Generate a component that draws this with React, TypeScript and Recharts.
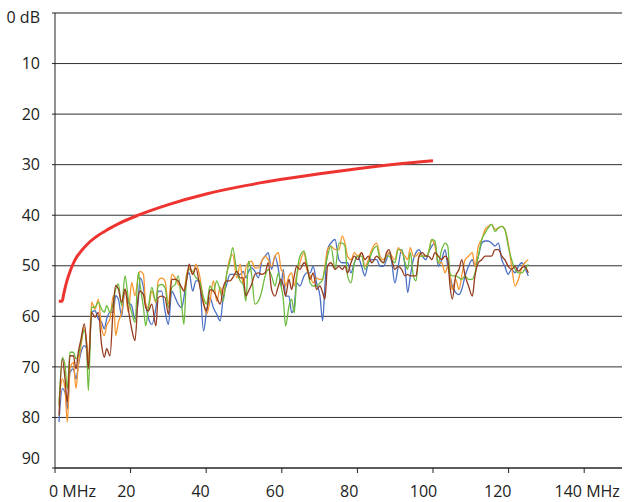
import { CartesianGrid, Line, LineChart, ReferenceLine, XAxis, YAxis } from "recharts";

// frequency points (MHz) shared by the four measured traces
const mhz = [
  1.06, 1.94, 2.65, 3.26, 3.97, 4.85, 5.56, 6.17, 6.88, 7.76, 8.38, 8.82, 9.7, 10.58, 11.46, 12.35, 13.05, 13.67, 14.55, 15.43,
  16.05, 16.75, 17.64, 18.52, 19.4, 20.28, 21.16, 22.05, 22.5, 23.4, 24.0, 24.7, 25.6, 26.7, 27.3, 28.2, 29.1, 30.0, 30.9, 31.8,
  32.6, 33.5, 34.1, 34.8, 35.5, 36.4, 37.3, 38.2, 39.3, 40.1, 41.0, 41.9, 42.8, 43.7, 44.5, 45.4, 46.3, 47.0, 48.1, 49.0,
  49.8, 50.5, 51.2, 52.0, 52.9, 53.8, 54.7, 55.6, 56.4, 57.3, 58.2, 59.1, 59.8, 60.4, 61.0, 61.9, 62.6, 63.3, 63.9, 64.8,
  65.9, 66.6, 67.5, 68.3, 69.2, 70.1, 70.8, 71.4, 72.1, 73.0, 74.1, 75.1, 76.0, 76.7, 77.4, 78.3, 79.2, 80.1, 81.1, 82.0,
  82.9, 83.8, 85.1, 86.0, 86.9, 87.7, 88.4, 89.1, 89.9, 90.8, 91.7, 92.6, 93.3, 94.0, 94.8, 95.5, 96.3, 97.2, 98.1, 98.8,
  99.7, 100.5, 101.4, 102.3, 103.2, 103.9, 104.5, 105.1, 106.0, 106.9, 107.6, 108.5, 109.4, 110.4, 111.1, 112.0, 112.9, 113.8, 114.6, 115.5,
  116.4, 117.3, 118.2, 119.0, 119.9, 120.8, 121.7, 122.6, 123.5, 124.3, 125.2,
];

const blue = [
  80.9, 74.3, 75.0, 78.3, 71.1, 70.4, 72.4, 69.7, 67.1, 65.8, 66.4, 69.7, 59.2, 58.9, 60.5, 61.2, 62.5, 60.5, 59.2, 59.2,
  55.9, 56.6, 59.9, 54.6, 57.2, 57.9, 60.5, 56.6, 52.4, 54.3, 57.6, 60.3, 61.6, 58.3, 55.0, 55.0, 58.9, 61.6, 55.0, 56.3,
  57.6, 58.3, 56.3, 52.4, 51.4, 55.0, 53.0, 53.0, 62.9, 58.9, 56.3, 58.3, 59.6, 60.9, 56.3, 53.7, 51.7, 51.7, 51.7, 51.7,
  51.1, 52.4, 51.1, 50.4, 51.1, 52.4, 49.1, 48.1, 47.4, 50.7, 48.1, 50.7, 54.0, 50.7, 56.0, 56.0, 59.3, 58.0, 53.4, 54.0,
  52.0, 51.4, 51.4, 50.1, 53.4, 56.0, 60.9, 54.0, 46.8, 45.5, 44.8, 48.8, 49.4, 49.4, 49.4, 51.4, 49.4, 48.1, 50.1, 52.0,
  49.4, 48.8, 48.8, 50.1, 50.1, 48.8, 47.4, 49.4, 53.4, 50.1, 46.8, 50.1, 55.3, 52.0, 48.8, 47.4, 46.8, 48.1, 48.8, 47.4,
  46.1, 45.5, 50.1, 48.8, 46.8, 50.1, 52.0, 54.0, 55.3, 55.7, 54.7, 52.0, 50.1, 48.8, 50.1, 48.1, 45.5, 45.1, 45.1, 45.5,
  46.1, 45.5, 48.8, 50.1, 51.7, 50.7, 51.4, 50.1, 49.4, 50.4, 52.0,
];

const orange = [
  77.0, 72.4, 74.3, 80.9, 70.4, 69.1, 74.3, 69.7, 65.8, 62.2, 65.1, 69.1, 57.2, 58.6, 56.6, 62.5, 63.8, 61.8, 60.5, 55.9,
  63.8, 61.2, 59.2, 54.6, 59.2, 53.3, 55.9, 52.0, 51.1, 51.7, 57.6, 58.3, 55.0, 57.3, 53.0, 52.4, 53.0, 57.6, 51.7, 52.4,
  53.7, 54.3, 55.0, 51.7, 50.4, 51.7, 49.7, 51.7, 57.0, 59.6, 57.0, 53.0, 57.0, 54.3, 55.7, 51.7, 48.4, 47.8, 52.4, 49.7,
  53.7, 50.4, 49.4, 49.1, 50.4, 50.4, 49.1, 48.1, 48.8, 50.1, 48.1, 47.4, 50.7, 51.4, 54.0, 52.0, 51.4, 54.0, 52.0, 49.4,
  47.4, 50.7, 52.0, 53.4, 52.4, 52.7, 52.7, 50.1, 46.8, 46.1, 46.8, 46.8, 44.1, 45.5, 48.1, 48.8, 47.4, 48.1, 47.4, 50.1,
  48.8, 46.8, 45.5, 48.1, 48.8, 48.1, 47.4, 48.1, 48.8, 46.4, 47.4, 48.1, 48.8, 46.4, 48.1, 48.1, 47.4, 48.1, 48.1, 47.4,
  44.8, 46.1, 49.4, 49.4, 51.4, 50.1, 52.0, 54.7, 52.7, 54.7, 52.0, 48.8, 48.1, 47.4, 50.1, 46.1, 44.8, 42.8, 42.2, 41.8,
  42.8, 42.5, 42.2, 42.8, 45.5, 50.1, 54.0, 52.7, 50.4, 49.4, 48.8,
];

const green = [
  77.6, 68.1, 69.7, 74.3, 67.1, 67.1, 68.4, 67.8, 65.1, 62.8, 66.4, 74.7, 58.2, 58.2, 57.2, 58.6, 59.2, 57.9, 59.2, 57.2,
  54.6, 53.6, 57.9, 52.0, 56.6, 59.2, 61.2, 51.3, 53.7, 58.3, 61.9, 58.3, 54.3, 57.0, 54.0, 53.7, 54.3, 58.3, 54.3, 53.7,
  52.0, 57.6, 61.6, 52.4, 50.7, 51.1, 52.4, 53.0, 56.3, 57.6, 54.0, 55.0, 53.0, 55.0, 57.0, 51.7, 49.1, 46.4, 51.1, 53.0,
  53.7, 57.0, 49.1, 51.7, 57.6, 57.0, 55.0, 52.0, 50.7, 52.0, 54.0, 51.4, 54.0, 56.6, 61.9, 58.0, 56.6, 59.3, 52.7, 48.1,
  47.1, 49.4, 53.4, 54.0, 54.0, 53.4, 52.7, 50.7, 48.1, 46.1, 50.7, 45.5, 45.5, 46.1, 52.0, 53.4, 49.4, 48.1, 48.1, 50.7,
  49.4, 47.4, 46.1, 48.8, 49.4, 48.1, 48.1, 48.8, 49.4, 46.8, 46.8, 49.4, 50.7, 47.4, 52.0, 53.0, 48.1, 48.1, 48.1, 47.4,
  44.8, 45.1, 49.4, 46.8, 45.5, 46.1, 51.4, 52.0, 52.0, 52.4, 52.7, 52.0, 52.7, 52.7, 51.4, 48.1, 44.8, 43.5, 42.5, 41.8,
  43.2, 42.5, 42.2, 42.8, 46.1, 48.8, 50.7, 51.4, 51.4, 50.7, 49.7,
];

const brown = [
  79.6, 68.4, 72.4, 77.0, 67.8, 67.8, 70.4, 67.1, 64.5, 61.5, 65.8, 70.4, 59.2, 60.2, 59.2, 65.8, 68.1, 66.4, 67.8, 57.9,
  53.9, 54.6, 57.2, 54.6, 58.6, 62.5, 64.8, 55.9, 55.0, 55.7, 58.3, 58.9, 57.6, 61.9, 56.3, 56.0, 56.3, 59.6, 52.7, 52.7,
  53.0, 54.3, 55.0, 53.0, 49.7, 51.7, 50.4, 53.7, 57.6, 58.9, 54.7, 55.0, 56.3, 57.6, 54.3, 53.0, 53.0, 52.4, 51.1, 52.4,
  52.4, 56.0, 55.0, 53.7, 51.7, 51.4, 51.7, 51.4, 49.4, 54.7, 56.0, 54.0, 52.7, 54.0, 56.0, 52.7, 54.7, 52.0, 50.1, 50.7,
  49.4, 50.1, 52.7, 51.4, 54.7, 54.0, 55.3, 56.6, 50.1, 49.4, 50.7, 50.1, 50.7, 50.1, 51.4, 49.4, 48.1, 48.8, 47.4, 48.8,
  48.1, 49.4, 48.1, 48.8, 49.4, 47.4, 46.8, 48.8, 50.7, 50.1, 50.7, 52.0, 51.7, 52.0, 52.0, 52.0, 48.1, 47.4, 48.1, 48.1,
  48.8, 47.4, 48.1, 48.8, 48.1, 48.8, 54.0, 56.6, 52.0, 50.7, 48.8, 52.0, 54.0, 56.0, 52.0, 49.4, 48.8, 48.1, 48.1, 48.1,
  46.8, 46.8, 48.1, 48.8, 50.1, 50.7, 50.1, 51.1, 50.4, 50.1, 51.4,
];

// limit curve
const limitMhz = [1, 1.9, 2.3, 2.6, 3.2, 4, 4.8, 5.7, 6.6, 7.5, 9.3, 11, 14, 17, 22, 30, 40, 50, 60, 70, 80, 90, 100];
const limitDb = [57, 57, 55.6, 54.6, 52.9, 51.1, 49.6, 48.3, 47.4, 46.6, 45.2, 44.2, 42.8, 41.6, 40.0, 37.9, 35.8, 34.2, 32.9, 31.8, 30.8, 29.9, 29.2];

const yTicks = [0, 10, 20, 30, 40, 50, 60, 70, 80, 90];
const xTicks = [0, 20, 40, 60, 80, 100, 120, 140];

const rows = mhz.map((m, i) => ({ mhz: m, blue: blue[i], orange: orange[i], green: green[i], brown: brown[i] }));
const limitRows = limitMhz.map((m, i) => ({ mhz: m, limit: limitDb[i] }));

const font = "'Open Sans', sans-serif";
const fs = 16;
const ink = "#222";

function XTick({ x, payload }: any) {
  const v = payload.value;
  const base = 497;
  if (v === 0) {
    return (
      <text x={x - 6} y={base} textAnchor="start" fontSize={fs} fontFamily={font} fill={ink}>
        0 MHz
      </text>
    );
  }
  if (v === 140) {
    return (
      <text x={x + 3} y={base} textAnchor="middle" fontSize={fs} fontFamily={font} fill={ink}>
        140 MHz
      </text>
    );
  }
  return (
    <text x={x - (3 + v * 0.065)} y={base} textAnchor="middle" fontSize={fs} fontFamily={font} fill={ink}>
      {String(v)}
    </text>
  );
}

function YTick({ x, y, payload }: any) {
  const v = payload.value;
  const shift = v === 0 ? 4 : v === 90 ? -10 : 0;
  return (
    <text x={x} y={y + shift} dy="0.355em" textAnchor="end" fontSize={fs} fontFamily={font} fill={ink}>
      {v === 0 ? "0 dB" : String(v)}
    </text>
  );
}

export default function App() {
  return (
    <div style={{ width: 625, height: 502, background: "#fff" }}>
      <style>{`body{margin:0}`}</style>
      <LineChart width={625} height={502} data={rows} margin={{ top: 13, right: 3, left: 0, bottom: 0 }}>
        <CartesianGrid vertical={false} stroke="#303030" strokeWidth={1} />
        <ReferenceLine y={0} stroke="#8c8c8c" strokeWidth={1.6} />
        <XAxis
          dataKey="mhz"
          type="number"
          domain={[0, 150]}
          ticks={xTicks}
          height={34}
          stroke={ink}
          tickSize={5}
          tick={<XTick />}
          interval={0}
          allowDataOverflow
        />
        <YAxis
          type="number"
          reversed
          domain={[0, 90]}
          ticks={yTicks}
          width={55}
          stroke={ink}
          tickSize={3}
          tickMargin={12}
          tick={<YTick />}
          interval={0}
        />
        <Line dataKey="blue" type="monotone" stroke="#4a6fc4" strokeWidth={1.3} dot={false} isAnimationActive={false} />
        <Line dataKey="orange" type="monotone" stroke="#f7962e" strokeWidth={1.3} dot={false} isAnimationActive={false} />
        <Line dataKey="green" type="monotone" stroke="#6cbb3c" strokeWidth={1.3} dot={false} isAnimationActive={false} />
        <Line dataKey="brown" type="monotone" stroke="#953a1d" strokeWidth={1.3} dot={false} isAnimationActive={false} />
        <Line
          data={limitRows}
          dataKey="limit"
          type="monotone"
          stroke="#ee3430"
          strokeWidth={3}
          dot={false}
          isAnimationActive={false}
        />
      </LineChart>
    </div>
  );
}
